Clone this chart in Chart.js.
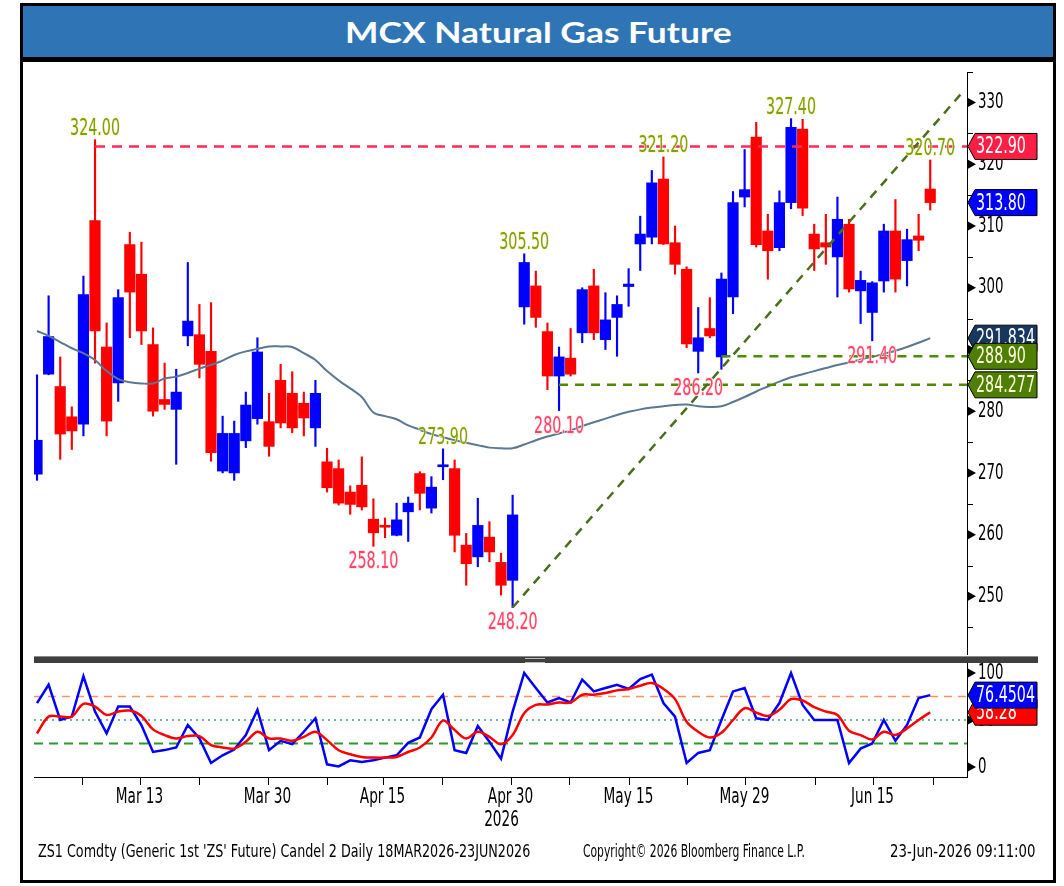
<!DOCTYPE html>
<html><head><meta charset="utf-8">
<script src="https://cdn.jsdelivr.net/npm/chart.js@4.4.1/dist/chart.umd.min.js"></script>
<style>
html,body{margin:0;padding:0;background:#fff;}
body{width:1064px;height:886px;position:relative;overflow:hidden;font-family:"DejaVu Sans",sans-serif;}
.abs{position:absolute;}
#frame{left:20px;top:3px;width:1030px;height:874px;border:3px solid #000;}
#titlebar{left:23px;top:6px;width:1030px;height:51px;background:#2f75b5;display:flex;align-items:center;justify-content:center;}
#title{display:inline-block;color:#fff;font-family:Lato,"Open Sans",sans-serif;font-weight:700;font-size:29px;white-space:nowrap;transform-origin:center;}
#titleline{left:23px;top:57px;width:1030px;height:5px;background:#000;}
#c1{left:24px;top:63px;}
#c2{left:24px;top:660px;}
#sep{left:34px;top:656px;width:1004px;height:7px;background:#3f3f3f;border-top:1px solid #8a8a8a;box-sizing:border-box;}
#grip{position:absolute;left:491px;top:1px;width:20px;height:3px;border-top:1px solid #bbb;border-bottom:1px solid #bbb;}
.ft{position:absolute;top:840px;font-size:18px;color:#000;white-space:nowrap;display:inline-block;font-family:"DejaVu Sans",sans-serif;}
#f1{left:38px;transform-origin:left center;}
#f2{left:583px;transform-origin:left center;}
#f3{right:29px;transform-origin:right center;}
</style></head>
<body>
<div id="frame" class="abs"></div>
<div id="titlebar" class="abs"><span id="title">MCX Natural Gas Future</span></div>
<div id="titleline" class="abs"></div>
<canvas id="c1" class="abs" width="1026" height="595"></canvas>
<canvas id="c2" class="abs" width="1026" height="182"></canvas>
<div id="sep" class="abs"><div id="grip"></div></div>
<span id="f1" class="ft">ZS1 Comdty (Generic 1st 'ZS' Future) Candel 2 Daily 18MAR2026-23JUN2026</span>
<span id="f2" class="ft">Copyright© 2026 Bloomberg Finance L.P.</span>
<span id="f3" class="ft">23-Jun-2026 09:11:00</span>
<script>
// ---------------- DATA ----------------
const openP = [269.8,286.0,284.0,279.1,277.9,310.9,290.4,284.6,307.0,302.2,
  290.8,281.9,280.3,292.2,292.4,289.7,270.3,270.0,275.2,278.8,
  278.3,285.0,282.9,281.3,277.3,271.8,270.7,266.9,268.0,262.5,
  261.3,259.9,263.7,269.9,264.3,271.0,270.7,258.3,256.4,259.6,
  255.5,252.6,296.9,300.3,292.9,285.7,288.6,292.7,300.3,291.6,
  295.2,300.2,307.1,308.2,317.6,307.3,303.0,289.7,293.4,288.8,
  298.5,314.7,324.4,309.2,306.5,313.8,325.7,308.7,307.3,305.0,
  310.3,299.5,296.0,301.1,309.2,304.4,308.4,316.0];
const highP = [285.9,298.7,288.8,280.7,301.9,324.0,294.3,299.7,309.0,307.4,
  293.5,287.8,286.8,304.1,297.3,297.6,279.2,278.4,283.1,291.9,
  282.9,287.6,286.4,283.1,285.0,274.0,272.1,267.9,272.6,265.8,
  262.7,265.1,266.1,270.2,269.4,273.9,272.1,260.2,265.9,262.1,
  257.0,266.4,305.5,302.7,294.3,290.4,293.4,300.0,303.0,299.2,
  298.7,303.1,311.6,319.0,321.2,310.0,303.4,296.8,298.4,302.4,
  315.6,322.4,326.8,311.9,315.7,327.4,327.3,310.3,311.9,314.7,
  311.1,302.7,301.0,310.3,314.3,309.5,311.9,320.7];
const lowP = [268.8,285.9,272.2,273.8,276.0,287.8,276.0,281.6,291.9,290.8,
  279.2,280.3,271.4,290.6,285.4,271.9,270.0,268.8,274.1,277.9,
  272.7,277.3,276.5,276.0,274.3,266.9,264.8,263.3,264.0,258.1,
  259.5,259.8,258.9,264.0,263.5,268.9,257.2,251.8,254.8,255.6,
  250.2,248.2,294.1,293.6,283.5,280.1,285.7,291.1,291.6,290.0,
  288.9,297.0,302.8,307.1,307.0,302.2,290.3,286.2,291.9,286.8,
  295.8,313.1,306.6,301.4,306.0,312.8,311.7,302.8,303.8,298.5,
  299.3,294.2,291.4,299.3,299.3,300.3,306.0,312.6];
const closeP = [275.3,292.1,276.3,276.8,298.9,293.0,278.4,298.4,299.3,293.0,
  280.0,281.1,283.1,294.6,287.6,273.3,276.4,276.4,281.0,289.6,
  274.3,278.1,277.3,278.9,282.9,267.6,265.1,264.9,264.5,260.3,
  261.2,262.4,265.1,266.7,267.7,271.2,259.9,255.3,261.5,257.2,
  251.8,263.2,304.1,295.2,285.7,288.8,286.0,299.7,292.7,294.8,
  297.3,300.6,308.7,317.0,307.1,303.8,290.9,291.9,292.2,301.4,
  313.8,315.9,307.0,306.0,313.8,326.0,312.9,306.3,306.6,311.1,
  299.8,301.2,300.8,309.2,301.4,307.8,307.7,313.8];
const maLine = [293.0,292.2,291.2,290.2,289.4,288.3,286.5,285.2,284.7,284.5,
  284.5,285.3,285.6,286.2,286.9,287.5,288.2,289.1,289.7,290.1,
  290.5,290.5,290.4,289.4,288.3,286.5,285.0,283.7,282.3,279.8,
  279.2,278.7,277.7,277.0,276.3,275.8,275.3,274.9,274.5,274.1,
  274.0,274.0,274.6,275.3,275.9,276.4,276.9,277.6,278.2,278.8,
  279.4,279.9,280.3,280.6,280.8,281.0,281.1,280.8,280.7,280.8,
  281.5,282.3,283.2,284.0,284.8,285.5,286.0,286.5,287.0,287.5,
  287.9,288.4,288.8,289.3,289.8,290.4,291.1,291.834];
const stochK = [68,87.5,50,53.6,96.5,59,35.7,64.3,64.3,44.7,
  16,18,20.8,44.7,30.4,4.3,12.5,18.6,34,60.8,
  17.9,27.9,24.3,37.5,51.8,2.9,0.7,7.1,5.4,7.1,
  10,12.5,25.7,31.4,61.5,76.8,17.9,15,43.6,26.8,
  8.9,59,100,84,68.6,73.3,68.6,93,80.4,84,
  87.5,83,93.6,98.3,68,53.6,4.3,15,17.9,50,
  80.4,84,51.8,50,68,100,66,50,50,50,
  4.3,19.6,25,50,27.9,44.7,73.3,76.4504];
const stochD = [35.7,53.6,53.6,53.6,67.2,64.3,55.4,59,60,54.3,
  40,34,30.4,32.9,32.9,23.3,20.8,19.6,26.8,37.5,
  30.4,30.4,27.9,32.1,37.5,28.6,17.9,13.6,10.7,10,
  10,10.7,16,20.8,31.4,49.3,39.3,30.4,37.5,32.1,
  24.3,34,57.2,66,66.5,68.6,68.6,76.8,76.8,78.6,
  81.5,83,86.5,89.3,83,72.2,48.2,37.5,31.4,36.4,
  50,62.5,57.9,54.3,60.8,72.2,70.7,63.6,59,55.4,
  38.6,34,29.4,37.5,34,41.1,50,58.28];
const resistance = 322.90, resistanceFrom = 5;
const supports = [288.90, 284.277], supportFrom = [59, 45];
const trendX = [41, 79.6], trendY = [248.2, 331.3];
const highMarks = [5, 35, 42, 54, 65, 77];
const lowMarks = [29, 41, 45, 57, 72];
const oscLevels = [75, 50, 25];
const priceTicks = [250, 260, 270, 280, 290, 300, 310, 320, 330];
const oscTicks = [0, 50, 100];
const dateTickPos = [3.9, 8.9, 14.0, 19.9, 25.0, 29.8, 34.9, 40.9, 45.9, 51.0, 56.0, 61.0, 67.1, 72.1, 77.2];
const dateTickText = ['', 'Mar 13', '', 'Mar 30', '', 'Apr 15', '', 'Apr 30', '', 'May 15', '', 'May 29', '', 'Jun 15', ''];
const yearText = '2026', yearUnder = 'Apr 30';

// ---------------- HELPERS ----------------
const SX = 0.62;
const FONT = '"DejaVu Sans", Verdana, sans-serif';
const RED = '#ff0000', BLUE = '#0000ff';
function fmt(v){ const s = String(v); const d = (s.split('.')[1] || '').length; return v.toFixed(Math.max(2, d)); }
function txt(ctx, s, x, y, size, color, align, o){
  ctx.save();
  ctx.font = size + 'px ' + FONT;
  ctx.textBaseline = 'middle';
  ctx.textAlign = align || 'left';
  ctx.translate(x, y); ctx.scale(SX, 1);
  if (o && o.stroke){ ctx.lineJoin='round'; ctx.lineWidth = o.sw || 3; ctx.strokeStyle = o.stroke; ctx.strokeText(s, 0, 0); }
  ctx.fillStyle = color; ctx.fillText(s, 0, 0);
  ctx.restore();
}
function hline(ctx, x0, x1, y, color, w, dash){
  ctx.save(); ctx.beginPath(); ctx.setLineDash(dash); ctx.lineWidth = w; ctx.strokeStyle = color;
  ctx.moveTo(x0, y); ctx.lineTo(x1, y); ctx.stroke(); ctx.restore();
}
function tag(ctx, a, yC, text, bg, fg){
  const x0 = a.right + 1, x1 = a.right + 8, x2 = a.right + 70, h = 26;
  ctx.save();
  ctx.beginPath(); ctx.moveTo(x0, yC); ctx.lineTo(x1, yC - h/2); ctx.lineTo(x2, yC - h/2);
  ctx.lineTo(x2, yC + h/2); ctx.lineTo(x1, yC + h/2); ctx.closePath();
  ctx.fillStyle = bg; ctx.fill(); ctx.lineWidth = 1; ctx.strokeStyle = '#000'; ctx.stroke();
  ctx.restore();
  txt(ctx, text, x1 + 1, yC + 1, 23, fg, 'left');
}
function rightAxis(ctx, a, y, labels, minorStep, lo, hi){
  ctx.save();
  ctx.strokeStyle = '#000'; ctx.lineWidth = 1;
  ctx.beginPath(); ctx.moveTo(a.right + 0.5, a.top); ctx.lineTo(a.right + 0.5, a.bottom); ctx.stroke();
  if (minorStep){
    for (let v = lo; v <= hi + 1e-6; v += minorStep){
      const py = Math.round(y.getPixelForValue(v)) + 0.5;
      if (py < a.top - 2 || py > a.bottom + 1) continue;
      ctx.beginPath(); ctx.moveTo(a.right, py); ctx.lineTo(a.right + 6, py); ctx.stroke();
    }
  }
  labels.forEach(v => {
    const py = y.getPixelForValue(v);
    ctx.fillStyle = '#000';
    ctx.beginPath(); ctx.moveTo(a.right + 1, py - 4.5); ctx.lineTo(a.right + 9, py); ctx.lineTo(a.right + 1, py + 4.5); ctx.closePath(); ctx.fill();
    txt(ctx, String(v), a.right + 11, py, 21.5, '#000', 'left');
  });
  ctx.restore();
}

const idx = openP.map((_, i) => i);
const upCol = idx.map(i => closeP[i] >= openP[i] ? BLUE : RED);

// ---------------- PRICE CHART ----------------
const pricePlugin = {
  id: 'priceDecor',
  afterDatasetsDraw(chart){
    const {ctx, chartArea: a, scales: {x, y}} = chart;
    ctx.save();
    ctx.beginPath(); ctx.rect(a.left, a.top, a.right - a.left, a.bottom - a.top); ctx.clip();
    hline(ctx, x.getPixelForValue(resistanceFrom), a.right, y.getPixelForValue(resistance), '#ff2a55', 2.5, [10, 7]);
    supports.forEach((v, k) => hline(ctx, x.getPixelForValue(supportFrom[k]), a.right, y.getPixelForValue(v), '#4f8a00', 2.5, [9, 7]));
    ctx.beginPath(); ctx.setLineDash([9, 7]); ctx.lineWidth = 2.5; ctx.strokeStyle = '#4a6e1e';
    ctx.moveTo(x.getPixelForValue(trendX[0]), y.getPixelForValue(trendY[0]));
    ctx.lineTo(x.getPixelForValue(trendX[1]), y.getPixelForValue(trendY[1]));
    ctx.stroke();
    ctx.restore();
    highMarks.forEach(i => txt(ctx, highP[i].toFixed(2), x.getPixelForValue(i), y.getPixelForValue(highP[i]) - 11, 23, '#7f9c22', 'center', {stroke: 'rgba(250,250,170,0.85)', sw: 2}));
    lowMarks.forEach(i => txt(ctx, lowP[i].toFixed(2), x.getPixelForValue(i), y.getPixelForValue(lowP[i]) + 16, 23, '#ff4466', 'center', {stroke: 'rgba(255,225,230,0.9)', sw: 2}));
  },
  afterDraw(chart){
    const {ctx, chartArea: a, scales: {y}} = chart;
    rightAxis(ctx, a, y, priceTicks, 5, 245, 335);
    const n = closeP.length - 1;
    tag(ctx, a, y.getPixelForValue(maLine[n]), fmt(maLine[n]), '#17375e', '#ffffff');
    tag(ctx, a, y.getPixelForValue(supports[0]), fmt(supports[0]), '#4f7f00', '#ffffe0');
    tag(ctx, a, y.getPixelForValue(supports[1]), fmt(supports[1]), '#4f7f00', '#ffffe0');
    tag(ctx, a, y.getPixelForValue(resistance), fmt(resistance), '#ff1f45', '#ffffff');
    tag(ctx, a, y.getPixelForValue(closeP[n]), fmt(closeP[n]), '#0000ff', '#ffffff');
  }
};

const xMin = -0.26, xMax = 80.17;
new Chart(document.getElementById('c1'), {
  type: 'bar',
  data: {
    datasets: [
      { type: 'line', data: idx.map(i => ({x: i, y: maLine[i]})), borderColor: '#5b7890', borderWidth: 2, pointRadius: 0, tension: 0.35, order: 1 },
      { data: idx.map(i => ({x: i, y: [openP[i], closeP[i]]})), backgroundColor: upCol, barThickness: 10.5, minBarLength: 2, grouped: false, borderWidth: 0, borderSkipped: false, order: 2 },
      { data: idx.map(i => ({x: i, y: [lowP[i], highP[i]]})), backgroundColor: upCol, barThickness: 1.5, grouped: false, borderWidth: 0, borderSkipped: false, order: 3 }
    ]
  },
  options: {
    responsive: false, animation: false, devicePixelRatio: 1, events: [],
    layout: { padding: { left: 10, top: 10, bottom: 3, right: 0 } },
    plugins: { legend: { display: false }, tooltip: { enabled: false } },
    scales: {
      x: { type: 'linear', min: xMin, max: xMax, offset: false, display: false },
      y: { position: 'right', min: 240.5, max: 334.8, ticks: { display: false }, grid: { display: false }, border: { display: false },
           afterFit(s){ s.width = 83; } }
    }
  },
  plugins: [pricePlugin]
});

// ---------------- OSCILLATOR CHART ----------------
const oscPlugin = {
  id: 'oscDecor',
  beforeDatasetsDraw(chart){
    const {ctx, chartArea: a, scales: {y}} = chart;
    hline(ctx, a.left, a.right, y.getPixelForValue(oscLevels[0]), '#ff9060', 1.5, [8, 6]);
    hline(ctx, a.left, a.right, y.getPixelForValue(oscLevels[1]), '#3f9a9a', 1.5, [2, 4]);
    hline(ctx, a.left, a.right, y.getPixelForValue(oscLevels[2]), '#2a9a2a', 2, [9, 6]);
  },
  afterDraw(chart){
    const {ctx, chartArea: a, scales: {x, y}} = chart;
    rightAxis(ctx, a, y, oscTicks, 0);
    ctx.save();
    ctx.strokeStyle = '#000'; ctx.lineWidth = 1;
    ctx.beginPath(); ctx.moveTo(a.left, a.bottom + 0.5); ctx.lineTo(a.right + 1, a.bottom + 0.5); ctx.stroke();
    dateTickPos.forEach((p, k) => {
      const px = Math.round(x.getPixelForValue(p)) + 0.5;
      ctx.beginPath(); ctx.moveTo(px, a.bottom); ctx.lineTo(px, a.bottom + 8); ctx.stroke();
      if (dateTickText[k]) {
        txt(ctx, dateTickText[k], px - 1, a.bottom + 20, 22, '#000', 'center');
        if (dateTickText[k] === yearUnder) txt(ctx, yearText, px - 10, a.bottom + 43, 22, '#000', 'center');
      }
    });
    ctx.restore();
    const n = stochK.length - 1;
    tag(ctx, a, y.getPixelForValue(stochD[n]), fmt(stochD[n]), '#ff0000', '#ffffff');
    tag(ctx, a, y.getPixelForValue(stochK[n]), fmt(stochK[n]), '#0000ff', '#ffffff');
  }
};

new Chart(document.getElementById('c2'), {
  type: 'line',
  data: {
    datasets: [
      { data: idx.map(i => ({x: i, y: stochD[i]})), borderColor: RED, borderWidth: 2.5, pointRadius: 0, tension: 0.35, order: 1 },
      { data: idx.map(i => ({x: i, y: stochK[i]})), borderColor: BLUE, borderWidth: 2.5, pointRadius: 0, tension: 0, order: 2 }
    ]
  },
  options: {
    responsive: false, animation: false, devicePixelRatio: 1, events: [],
    layout: { padding: { left: 10, top: 3, bottom: 65, right: 0 } },
    plugins: { legend: { display: false }, tooltip: { enabled: false } },
    scales: {
      x: { type: 'linear', min: xMin, max: xMax, offset: false, display: false },
      y: { position: 'right', min: -10.6, max: 110.6, ticks: { display: false }, grid: { display: false }, border: { display: false },
           afterFit(s){ s.width = 83; } }
    }
  },
  plugins: [oscPlugin]
});

// ---------------- TEXT FITTING ----------------
function fitW(id, w){ const el = document.getElementById(id); const r = el.offsetWidth; if (r > 0) el.style.transform = 'scaleX(' + (w / r) + ')'; }
function fitAll(){ fitW('title', 387); fitW('f1', 492); fitW('f2', 222); fitW('f3', 145); }
fitAll();
if (document.fonts && document.fonts.ready) document.fonts.ready.then(fitAll);
</script>
</body></html>
